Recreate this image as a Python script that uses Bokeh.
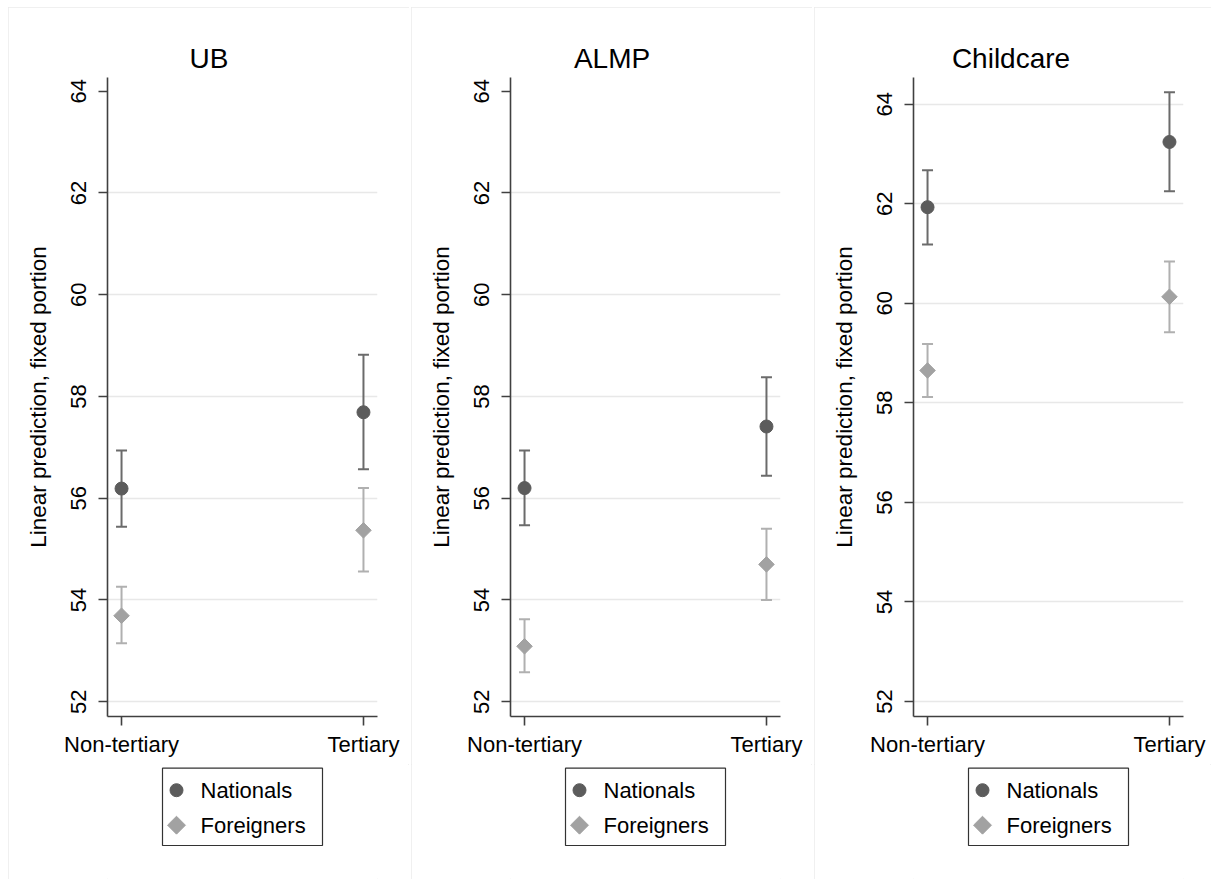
import numpy as np
from bokeh.plotting import figure
from bokeh.models import (Range1d, FixedTicker, ColumnDataSource, Whisker, TeeHead,
                          Title, Spacer)
from bokeh.core.properties import value
from bokeh.layouts import row, column
from bokeh.embed import file_html
from bokeh.resources import INLINE

# ---------------- data ----------------
panel_titles = ["UB", "ALMP", "Childcare"]
edu_levels = ["Non-tertiary", "Tertiary"]
group_names = ["Nationals", "Foreigners"]
y_ticks = [52, 54, 56, 58, 60, 62, 64]
y_label = "Linear prediction, fixed portion"

ub_nat = [56.19, 57.69]
ub_nat_lo = [55.44, 56.57]
ub_nat_hi = [56.94, 58.82]
ub_for = [53.69, 55.37]
ub_for_lo = [53.15, 54.56]
ub_for_hi = [54.26, 56.20]

almp_nat = [56.20, 57.41]
almp_nat_lo = [55.47, 56.44]
almp_nat_hi = [56.94, 58.38]
almp_for = [53.09, 54.70]
almp_for_lo = [52.58, 54.00]
almp_for_hi = [53.62, 55.40]

cc_nat = [61.93, 63.24]
cc_nat_lo = [61.18, 62.25]
cc_nat_hi = [62.67, 64.24]
cc_for = [58.65, 60.13]
cc_for_lo = [58.12, 59.42]
cc_for_hi = [59.18, 60.84]

# ---------------- style ----------------
FONT = "Liberation Sans"
NAT_COL = "#5c5c5c"
NAT_BAR = "#6b6b6b"
FOR_COL = "#a2a2a2"
FOR_BAR = "#b0b0b0"
AXIS_COL = "#404040"
GRID_COL = "#e8e8e8"

H_MAIN = 757
H_LEG = 115
BL, BT, BB = 99, 70, 48
TITLE_PX = 28
# approximate Arial advance widths (em) for centring the titles over each panel
_ADV = {"U": .722, "B": .667, "A": .667, "L": .556, "M": .833, "P": .667, "C": .722,
        "h": .556, "i": .222, "l": .222, "d": .556, "c": .5, "a": .556, "r": .333, "e": .556}

# legend box layout (pixels within the legend strip, measured from the frame's left / strip top)
LEG_LEFT, LEG_W, LEG_TOP, LEG_H = 55, 160, 3.7, 77.3
LEG_KEY_X, LEG_TEXT_X = 14, 38
LEG_ROW_Y = [22, 57]


def title_offset(text, width, shift):
    w = sum(_ADV.get(ch, .556) for ch in text) * TITLE_PX
    return (width / 2.0) - BL - w / 2.0 + shift


def marker_style(kind, scale=1.0):
    if kind == 0:
        return dict(marker="circle", size=13 * scale, fill_color=NAT_COL, line_color=NAT_COL)
    return dict(marker="square", angle=np.pi / 4, size=11 * scale, fill_color=FOR_COL, line_color=FOR_COL)


def make_panel(title, nat, nat_lo, nat_hi, fr, fr_lo, fr_hi, yr, grid_ticks, width, br, tshift):
    xs = list(range(len(edu_levels)))
    p = figure(width=width, height=H_MAIN, x_range=Range1d(-0.058, 1.058), y_range=Range1d(*yr),
               output_backend="svg", toolbar_location=None,
               min_border_left=BL, min_border_right=br, min_border_top=BT, min_border_bottom=BB)
    p.outline_line_color = None
    p.background_fill_color = "white"
    p.border_fill_color = "white"

    p.xgrid.visible = False
    p.ygrid.ticker = FixedTicker(ticks=grid_ticks)
    p.ygrid.grid_line_color = GRID_COL
    p.ygrid.grid_line_width = 1.5

    for ax in (p.xaxis[0], p.yaxis[0]):
        ax.axis_line_color = AXIS_COL
        ax.axis_line_width = 1.6
        ax.major_tick_line_color = AXIS_COL
        ax.major_tick_line_width = 1.6
        ax.major_tick_out = 9
        ax.major_tick_in = 0
        ax.minor_tick_line_color = None
        ax.major_label_text_font = FONT
        ax.major_label_text_font_size = "22px"
        ax.major_label_text_color = "black"
        ax.major_label_standoff = 5

    xa = p.xaxis[0]
    xa.ticker = FixedTicker(ticks=xs)
    xa.major_label_overrides = {i: lab for i, lab in zip(xs, edu_levels)}
    xa.major_label_standoff = 6

    ya = p.yaxis[0]
    ya.ticker = FixedTicker(ticks=y_ticks)
    ya.major_label_orientation = "vertical"
    ya.major_label_standoff = 12
    ya.axis_label = y_label
    ya.axis_label_text_font = FONT
    ya.axis_label_text_font_size = "22.5px"
    ya.axis_label_text_font_style = "normal"
    ya.axis_label_text_color = "black"
    ya.axis_label_standoff = 18

    src_n = ColumnDataSource(dict(x=xs, y=nat, lo=nat_lo, hi=nat_hi))
    src_f = ColumnDataSource(dict(x=xs, y=fr, lo=fr_lo, hi=fr_hi))

    for src, col in ((src_n, NAT_BAR), (src_f, FOR_BAR)):
        w = Whisker(base="x", lower="lo", upper="hi", source=src,
                    line_color=col, line_width=2,
                    upper_head=TeeHead(size=11, line_color=col, line_width=2),
                    lower_head=TeeHead(size=11, line_color=col, line_width=2))
        p.add_layout(w)

    p.scatter("x", "y", source=src_n, **marker_style(0))
    p.scatter("x", "y", source=src_f, **marker_style(1))

    t = Title(text=title, align="left", offset=title_offset(title, width, tshift),
              text_font=FONT, text_font_size=f"{TITLE_PX}px", text_font_style="normal",
              text_color="black", standoff=8, vertical_align="bottom")
    p.add_layout(t, "above")

    # legend strip below the plot (its frame is aligned with the plot frame above);
    # ranges are in pixels so the box layout can be given directly
    fw = width - BL - br
    pl = figure(width=width, height=H_LEG, x_range=Range1d(0, fw), y_range=Range1d(H_LEG, 0),
                output_backend="svg", toolbar_location=None,
                x_axis_location=None, y_axis_location=None,
                min_border_left=BL, min_border_right=br, min_border_top=0, min_border_bottom=0)
    pl.outline_line_color = None
    pl.xgrid.visible = False
    pl.ygrid.visible = False
    pl.background_fill_color = "white"
    pl.border_fill_color = "white"
    pl.quad(left=[LEG_LEFT], right=[LEG_LEFT + LEG_W], top=[LEG_TOP], bottom=[LEG_TOP + LEG_H],
            fill_color="white", line_color="#333333", line_width=1.2)
    for k, name in enumerate(group_names):
        ry = LEG_TOP + LEG_ROW_Y[k]
        pl.scatter(x=[LEG_LEFT + LEG_KEY_X], y=[ry], **marker_style(k, 1.0 if k == 0 else 1.15))
        pl.text(x=[LEG_LEFT + LEG_TEXT_X], y=[ry], text=[name],
                text_font=value(FONT), text_font_size="22px", text_color="black",
                text_baseline="middle", text_align="left")

    return column(p, pl, spacing=0,
                  styles={"outline": "1px solid #ebebeb", "outline-offset": "-1px"})


p1 = make_panel(panel_titles[0], ub_nat, ub_nat_lo, ub_nat_hi, ub_for, ub_for_lo, ub_for_hi,
                (51.71, 64.27), [52, 54, 56, 58, 60, 62], 401, 32, 0)
p2 = make_panel(panel_titles[1], almp_nat, almp_nat_lo, almp_nat_hi, almp_for, almp_for_lo, almp_for_hi,
                (51.71, 64.27), [52, 54, 56, 58, 60, 62], 401, 32, 0)
p3 = make_panel(panel_titles[2], cc_nat, cc_nat_lo, cc_nat_hi, cc_for, cc_for_lo, cc_for_hi,
                (51.70, 64.535), [52, 54, 56, 58, 60, 62, 64], 397, 28, -2)

layout = column(Spacer(height=7),
                row(Spacer(width=8), p1, Spacer(width=2), p2, Spacer(width=2), p3, spacing=0),
                spacing=0)

with open("out.html", "w") as f:
    f.write(file_html(layout, INLINE))
